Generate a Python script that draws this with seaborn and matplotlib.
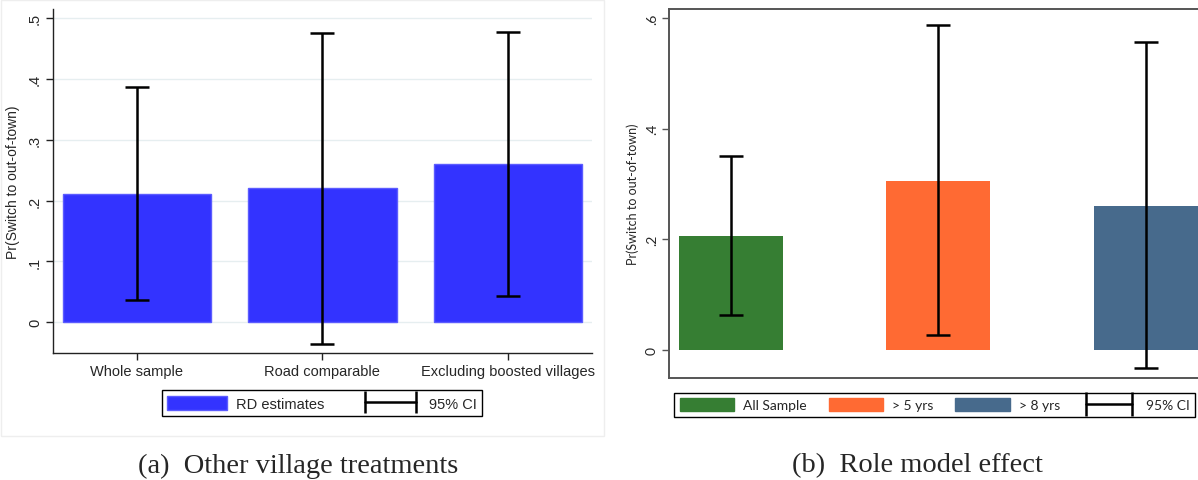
import matplotlib
matplotlib.use("Agg")
import matplotlib.pyplot as plt
import seaborn as sns
import pandas as pd
from matplotlib.patches import Patch, Rectangle
from matplotlib.lines import Line2D
from matplotlib.ticker import FuncFormatter

sns.set_theme(style="white")

# Panel (a): other village treatments
cats_a = ["Whole sample", "Road comparable", "Excluding boosted villages"]
est_a = [0.211, 0.220, 0.261]
lo_a = [0.037, -0.035, 0.044]
hi_a = [0.386, 0.475, 0.478]
yticks_a = [0, 0.1, 0.2, 0.3, 0.4, 0.5]

# Panel (b): role model effect
cats_b = ["All Sample", "> 5 yrs", "> 8 yrs"]
est_b = [0.205, 0.306, 0.261]
lo_b = [0.062, 0.027, -0.034]
hi_b = [0.351, 0.588, 0.558]
yticks_b = [0, 0.2, 0.4, 0.6]

blue = "#3333ff"
colors_b = ["#367e33", "#ff6a33", "#476a8c"]

ylabel = "Pr(Switch to out-of-town)"
caption_a = "(a)  Other village treatments"
caption_b = "(b)  Role model effect"


def stata_fmt(v, _pos):
    if abs(v) < 1e-9:
        return "0"
    s = f"{v:.1f}"
    return s.replace("0.", ".", 1) if s.startswith("0.") else s


W, H = 1198, 481
fig = plt.figure(figsize=(W / 100, H / 100), dpi=100)
fig.patch.set_facecolor("white")


def fx(px):
    return px / W


def fy(py):
    return 1 - py / H


# faint graph-region frame around panel (a)
fig.add_artist(Rectangle((fx(1), fy(437)), fx(603), fy(1) - fy(437),
                         transform=fig.transFigure, fill=False,
                         edgecolor="#eeeeee", lw=1))

# ---------------- panel (a) ----------------
font_a = ["Liberation Sans", "DejaVu Sans"]
ax1 = fig.add_axes([fx(53), fy(354), fx(592) - fx(53), fy(10) - fy(354)])
df_a = pd.DataFrame({"cat": cats_a, "est": est_a})
sns.barplot(data=df_a, x="cat", y="est", ax=ax1, color=blue, width=0.8,
            edgecolor="#5c5cff", linewidth=1, saturation=1, zorder=2)
ax1.errorbar(range(len(cats_a)), est_a,
             yerr=[[e - l for e, l in zip(est_a, lo_a)],
                   [h - e for e, h in zip(est_a, hi_a)]],
             fmt="none", ecolor="black", elinewidth=1.8, capsize=8.5,
             capthick=1.8, zorder=3)
ax1.set_xlim(-0.452, 2.454)
ax1.set_ylim(-0.0504, 0.515)
ax1.set_yticks(yticks_a)
ax1.yaxis.set_major_formatter(FuncFormatter(stata_fmt))
ax1.grid(axis="y", color="#e6eef0", lw=1, zorder=0)
ax1.set_axisbelow(True)
for s in ["top", "right"]:
    ax1.spines[s].set_visible(False)
for s in ["left", "bottom"]:
    ax1.spines[s].set_color("#222222")
    ax1.spines[s].set_linewidth(1)
ax1.tick_params(axis="both", direction="out", length=5, width=1,
                color="#222222", left=True, bottom=True, pad=3)
ax1.set_xlabel("")
ax1.set_ylabel(ylabel, fontsize=10, family=font_a, labelpad=6)
for t in ax1.get_yticklabels():
    t.set_rotation(90)
    t.set_va("center")
    t.set_family(font_a)
    t.set_fontsize(10.5)
for t in ax1.get_xticklabels():
    t.set_family(font_a)
    t.set_fontsize(10.5)

h_a = [Patch(facecolor=blue, edgecolor="#5c5cff", lw=1, label="RD estimates"),
       Line2D([0, 1], [0, 0], color="black", lw=1.8, marker="|",
              markersize=16, markeredgewidth=1.8, label="95% CI")]
leg_a = fig.legend(handles=h_a, loc="lower left",
                   bbox_to_anchor=(fx(162), fy(417), fx(482) - fx(162), fy(389) - fy(417)),
                   mode="expand", ncol=2, numpoints=2, frameon=True, fancybox=False,
                   edgecolor="black", framealpha=1, borderpad=0.35,
                   handlelength=4.1, handleheight=1.2, handletextpad=0.6,
                   columnspacing=1.8, borderaxespad=0,
                   prop={"family": font_a, "size": 10.5})
leg_a.get_frame().set_linewidth(1)

# ---------------- panel (b) ----------------
font_b = ["Lato", "DejaVu Sans"]
ax2 = fig.add_axes([fx(669), fy(379), 1 - fx(669), fy(10) - fy(379)])
df_b = pd.DataFrame({"cat": cats_b, "est": est_b})
sns.barplot(data=df_b, x="cat", y="est", hue="cat", palette=colors_b,
            legend=False, ax=ax2, width=0.5, saturation=1, linewidth=0,
            zorder=2)
ax2.errorbar(range(len(cats_b)), est_b,
             yerr=[[e - l for e, l in zip(est_b, lo_b)],
                   [h - e for e, h in zip(est_b, hi_b)]],
             fmt="none", ecolor="black", elinewidth=1.8, capsize=8.3,
             capthick=1.8, zorder=3)
ax2.set_xlim(-0.297, 2.25)
ax2.set_ylim(-0.0514, 0.617)
ax2.set_yticks(yticks_b)
ax2.yaxis.set_major_formatter(FuncFormatter(stata_fmt))
ax2.set_xticks([])
ax2.spines["right"].set_visible(False)
for s in ["left", "bottom", "top"]:
    ax2.spines[s].set_color("#555555")
    ax2.spines[s].set_linewidth(1.4)
ax2.tick_params(axis="y", direction="out", length=5, width=1,
                color="#555555", left=True, pad=3)
ax2.set_xlabel("")
ax2.set_ylabel(ylabel, fontsize=9, family=font_b, labelpad=5)
for t in ax2.get_yticklabels():
    t.set_rotation(90)
    t.set_va("center")
    t.set_family(font_b)
    t.set_fontsize(10)

h_b = [Patch(facecolor=c, edgecolor=c, label=l) for c, l in zip(colors_b, cats_b)]
h_b.append(Line2D([0, 1], [0, 0], color="black", lw=1.8, marker="|",
                  markersize=17, markeredgewidth=1.8, label="95% CI"))
leg_b = fig.legend(handles=h_b, loc="lower left",
                   bbox_to_anchor=(fx(674), fy(418)),
                   ncol=4, numpoints=2, frameon=True, fancybox=False,
                   edgecolor="black", framealpha=1, borderpad=0.4,
                   handlelength=3.9, handleheight=1.1, handletextpad=0.7,
                   columnspacing=1.55, borderaxespad=0,
                   prop={"family": font_b, "size": 10})
leg_b.get_frame().set_linewidth(1)

# captions
cap_font = ["Liberation Serif", "DejaVu Serif"]
fig.text(fx(298), fy(466), caption_a, ha="center", va="center",
         family=cap_font, fontsize=20.5)
fig.text(fx(917), fy(466), caption_b, ha="center", va="center",
         family=cap_font, fontsize=20.5)

fig.savefig("out.png", dpi=100, facecolor="white")
